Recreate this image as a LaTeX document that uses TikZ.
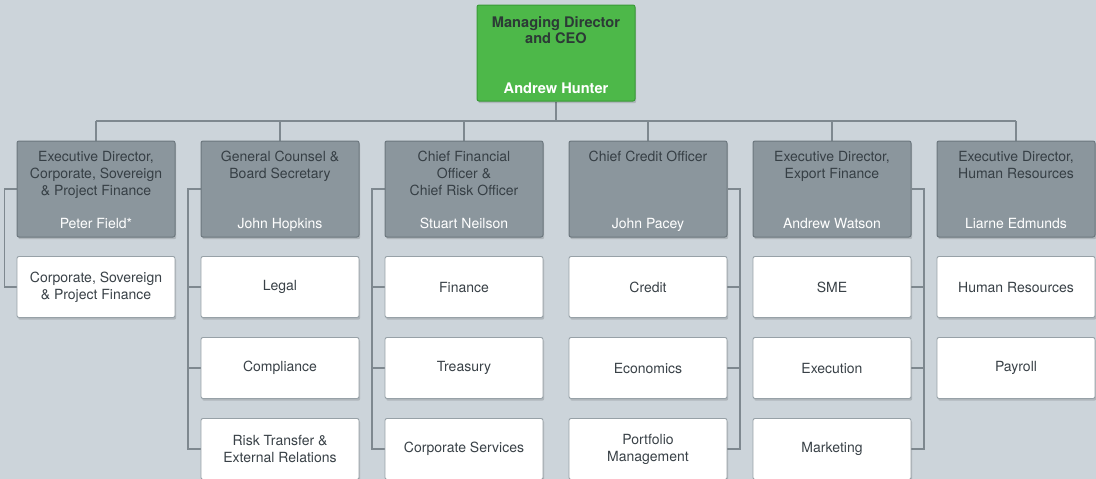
\documentclass[tikz,border=0pt]{standalone}
\usepackage{fontspec}
\setmainfont{TeX Gyre Heros}
\usetikzlibrary{shadows}

\definecolor{bgcol}{HTML}{CCD4DA}
\definecolor{ceofill}{HTML}{4DB849}
\definecolor{ceoline}{HTML}{3A9A38}
\definecolor{ceotext}{HTML}{2C3A36}
\definecolor{dirfill}{HTML}{8B969D}
\definecolor{dirline}{HTML}{6C777E}
\definecolor{dirtext}{HTML}{363F45}
\definecolor{unitline}{HTML}{97A1A7}
\definecolor{unittext}{HTML}{394147}
\definecolor{wire}{HTML}{7E888F}

\pgfdeclarelayer{canvas}
\pgfdeclarelayer{wires}
\pgfsetlayers{canvas,wires,main}

\tikzset{
  softshadow/.style={drop shadow={shadow xshift=1.2pt, shadow yshift=-2.2pt,
      fill=black, opacity=0.14}},
  ceobox/.style={draw=ceoline, fill=ceofill, line width=1pt, rounded corners=2pt,
      minimum width=158pt, minimum height=96pt, softshadow},
  dirbox/.style={draw=dirline, fill=dirfill, line width=1pt, rounded corners=2pt,
      minimum width=158pt, minimum height=96pt, softshadow},
  unitbox/.style={draw=unitline, fill=white, line width=0.9pt, rounded corners=2pt,
      minimum width=158pt, minimum height=61pt, align=center, text=unittext,
      font=\fontsize{14}{17}\selectfont, softshadow},
  ceotitle/.style={anchor=north, inner sep=0pt, align=center, text=ceotext,
      font=\fontsize{14.6}{16.5}\selectfont\bfseries},
  ceoname/.style={anchor=base, inner sep=0pt, text=white,
      font=\fontsize{14.6}{16.5}\selectfont\bfseries},
  dirtitle/.style={anchor=north, inner sep=0pt, align=center, text=dirtext,
      font=\fontsize{14}{17}\selectfont},
  dirname/.style={anchor=base, inner sep=0pt, text=white,
      font=\fontsize{14}{17}\selectfont},
  wireline/.style={draw=wire, line width=1.2pt},
}

\begin{document}
\begin{tikzpicture}[x=1pt, y=-1pt]
% canvas
\begin{pgfonlayer}{canvas}
\fill[bgcol] (0,0) rectangle (1096,479);
\end{pgfonlayer}
\useasboundingbox (0,0) rectangle (1096,479);

% top of the chart
\node[ceobox] (ceo) at (556,53) {};
\node[ceotitle] (ceot) at ([yshift=-11.5pt]ceo.north) {Managing Director\\and CEO};
\node[ceoname] (ceon) at ([yshift=8.5pt]ceo.south) {Andrew Hunter};

% reporting line bus
\coordinate (bus) at (556,121);

% directors
\node[dirbox] (d1) at (96,189) {};
\node[dirbox] (d2) at (280,189) {};
\node[dirbox] (d3) at (464,189) {};
\node[dirbox] (d4) at (648,189) {};
\node[dirbox] (d5) at (832,189) {};
\node[dirbox] (d6) at (1016,189) {};

% units
\node[unitbox] (c11) at (96,287) {Corporate, Sovereign\\\& Project Finance};

\node[unitbox] (c21) at (280,287) {Legal};
\node[unitbox] (c22) at (280,368) {Compliance};
\node[unitbox] (c23) at (280,449) {Risk Transfer \&\\External Relations};

\node[unitbox] (c31) at (464,287) {Finance};
\node[unitbox] (c32) at (464,368) {Treasury};
\node[unitbox] (c33) at (464,449) {Corporate Services};

\node[unitbox] (c41) at (648,287) {Credit};
\node[unitbox] (c42) at (648,368) {Economics};
\node[unitbox] (c43) at (648,449) {Portfolio\\Management};

\node[unitbox] (c51) at (832,287) {SME};
\node[unitbox] (c52) at (832,368) {Execution};
\node[unitbox] (c53) at (832,449) {Marketing};

\node[unitbox] (c61) at (1016,287) {Human Resources};
\node[unitbox] (c62) at (1016,368) {Payroll};

% director texts
\node[dirtitle] (d1t) at ([yshift=-10.5pt]d1.north) {Executive Director,\\Corporate, Sovereign\\\& Project Finance};
\node[dirname] (d1n) at ([yshift=9pt]d1.south) {Peter Field*};
\node[dirtitle] (d2t) at ([yshift=-10.5pt]d2.north) {General Counsel \&\\Board Secretary};
\node[dirname] (d2n) at ([yshift=9pt]d2.south) {John Hopkins};
\node[dirtitle] (d3t) at ([yshift=-10.5pt]d3.north) {Chief Financial\\Officer \&\\Chief Risk Officer};
\node[dirname] (d3n) at ([yshift=9pt]d3.south) {Stuart Neilson};
\node[dirtitle] (d4t) at ([yshift=-10.5pt]d4.north) {Chief Credit Officer};
\node[dirname] (d4n) at ([yshift=9pt]d4.south) {John Pacey};
\node[dirtitle] (d5t) at ([yshift=-10.5pt]d5.north) {Executive Director,\\Export Finance};
\node[dirname] (d5n) at ([yshift=9pt]d5.south) {Andrew Watson};
\node[dirtitle] (d6t) at ([yshift=-10.5pt]d6.north) {Executive Director,\\Human Resources};
\node[dirname] (d6n) at ([yshift=9pt]d6.south) {Liarne Edmunds};

% connectors, kept behind the boxes
\begin{pgfonlayer}{wires}
  % CEO down to the bus, bus across, bus down to each director
  \draw[wireline] (ceo.south) -- (ceo.south |- bus);
  \draw[wireline] (d1.north |- bus) -- (d6.north |- bus);
  \foreach \d in {d1,d2,d3,d4,d5,d6}
    \draw[wireline] (\d.north) -- (\d.north |- bus);

  % left-hand feeders
  \draw[wireline] (d1.west) -- ++(-12,0) coordinate (f1) |- (c11.west);

  \draw[wireline] (d2.west) -- ++(-12.5,0) coordinate (f2) |- (c23.west);
  \draw[wireline] (f2 |- c21.west) -- (c21.west);
  \draw[wireline] (f2 |- c22.west) -- (c22.west);

  \draw[wireline] (d3.west) -- ++(-12.5,0) coordinate (f3) |- (c33.west);
  \draw[wireline] (f3 |- c31.west) -- (c31.west);
  \draw[wireline] (f3 |- c32.west) -- (c32.west);

  % right-hand feeders
  \draw[wireline] (d4.east) -- ++(12.5,0) coordinate (f4) |- (c43.east);
  \draw[wireline] (f4 |- c41.east) -- (c41.east);
  \draw[wireline] (f4 |- c42.east) -- (c42.east);

  \draw[wireline] (d5.east) -- ++(12.5,0) coordinate (f5) |- (c53.east);
  \draw[wireline] (f5 |- c51.east) -- (c51.east);
  \draw[wireline] (f5 |- c52.east) -- (c52.east);
\end{pgfonlayer}
\end{tikzpicture}
\end{document}
